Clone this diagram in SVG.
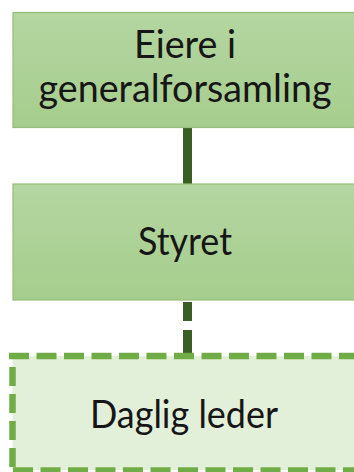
<svg xmlns="http://www.w3.org/2000/svg" width="354" height="472" viewBox="0 0 354 472">
  <defs>
    <linearGradient id="gBox" x1="0" y1="0" x2="0" y2="1">
      <stop offset="0" stop-color="#b4d6a1"/>
      <stop offset="1" stop-color="#a6cd8d"/>
    </linearGradient>
  </defs>
  <style>
    .box { fill: url(#gBox); stroke: #93bd78; stroke-width: 1.2; }
    .lbl { font-family: Lato, "Open Sans", "Liberation Sans", sans-serif; font-size: 39px; fill: #161616; text-anchor: middle; }
    .conn { stroke: #3b5e27; stroke-width: 9; fill: none; }
    .dash { stroke: #70ad47; stroke-width: 6.5; fill: none; }
  </style>
  <rect width="354" height="472" fill="#ffffff"/>
  <g id="connectors">
    <line class="conn" x1="187.5" y1="127" x2="187.5" y2="184"/>
    <line class="conn" x1="187.5" y1="302" x2="187.5" y2="353" stroke-dasharray="19 9 23"/>
  </g>
  <g id="node-eiere">
    <rect class="box" x="13" y="12.5" width="360" height="115"/>
    <text class="lbl" x="185" y="58" textLength="102" lengthAdjust="spacingAndGlyphs">Eiere i</text>
    <text class="lbl" x="185" y="102" textLength="293" lengthAdjust="spacingAndGlyphs">generalforsamling</text>
  </g>
  <g id="node-styret">
    <rect class="box" x="13" y="184" width="360" height="116"/>
    <text class="lbl" x="185" y="255" textLength="94" lengthAdjust="spacingAndGlyphs">Styret</text>
  </g>
  <g id="node-daglig">
    <rect x="12.5" y="356" width="360" height="114" fill="#e2efd9"/>
    <line class="dash" x1="9" y1="356" x2="360" y2="356" stroke-dasharray="20 7.5"/>
    <line class="dash" x1="12.5" y1="367" x2="12.5" y2="468" stroke-dasharray="19 8"/>
    <line class="dash" x1="13" y1="470.5" x2="360" y2="470.5" stroke-dasharray="20 7.5"/>
    <text class="lbl" x="184" y="428" textLength="188" lengthAdjust="spacingAndGlyphs">Daglig leder</text>
  </g>
</svg>
